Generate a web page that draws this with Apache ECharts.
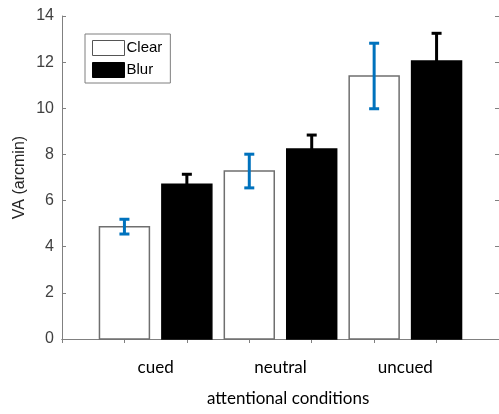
<!DOCTYPE html>
<html>
<head>
<meta charset="utf-8">
<script src="https://cdn.jsdelivr.net/npm/echarts@6/dist/echarts.min.js"></script>
<style>html,body{margin:0;padding:0;background:#fff;}#c{width:499px;height:414px;}</style>
</head>
<body>
<div id="c"></div>
<script>
var categories = ['cued', 'neutral', 'uncued'];
var clearVals = [4.87, 7.28, 11.40];
var clearErr = [0.32, 0.73, 1.42];
var blurVals = [6.71, 8.24, 12.05];
var blurErr = [0.43, 0.60, 1.20];
var yTicks = [0, 2, 4, 6, 8, 10, 12, 14];

var chart = echarts.init(document.getElementById('c'), null, {renderer: 'canvas'});

function makeRender(offset, fill, stroke, errColor) {
  return function (params, api) {
    var x = api.value(0), y = api.value(1), e = api.value(2);
    var pTop = api.coord([x + offset - 0.2, y]);
    var pBot = api.coord([x + offset + 0.2, 0]);
    var cx = api.coord([x + offset, 0])[0];
    var yHi = api.coord([x + offset, y + e])[1];
    var yLo = api.coord([x + offset, y - e])[1];
    var cap = 5;
    return {
      type: 'group',
      children: [
        {type: 'rect', shape: {x: pTop[0], y: pTop[1], width: pBot[0] - pTop[0], height: pBot[1] - pTop[1]},
         style: {fill: fill, stroke: stroke, lineWidth: 1.5}},
        {type: 'line', shape: {x1: cx, y1: yHi, x2: cx, y2: yLo}, style: {stroke: errColor, lineWidth: 3}},
        {type: 'line', shape: {x1: cx - cap, y1: yHi, x2: cx + cap, y2: yHi}, style: {stroke: errColor, lineWidth: 3}},
        {type: 'line', shape: {x1: cx - cap, y1: yLo, x2: cx + cap, y2: yLo}, style: {stroke: errColor, lineWidth: 3}}
      ]
    };
  };
}

var clearData = categories.map(function (c, i) { return [i + 1, clearVals[i], clearErr[i]]; });
var blurData = categories.map(function (c, i) { return [i + 1, blurVals[i], blurErr[i]]; });

var axisColor = '#808080';
var option = {
  animation: false,
  backgroundColor: '#fff',
  grid: {left: 62, top: 16, width: 438, height: 323},
  legend: {
    orient: 'vertical', left: 85, top: 34,
    padding: [6, 8, 5, 7], itemGap: 6,
    itemWidth: 32, itemHeight: 15,
    borderColor: '#7f7f7f', borderWidth: 1, backgroundColor: '#fff',
    textStyle: {fontFamily: 'Liberation Sans', fontSize: 15, color: '#000', padding: [0, 0, 0, -3]},
    data: [
      {name: 'Clear', icon: 'rect', itemStyle: {color: '#fff', borderColor: '#555', borderWidth: 1}},
      {name: 'Blur', icon: 'rect', itemStyle: {color: '#000', borderColor: '#000', borderWidth: 1}}
    ]
  },
  xAxis: [
    {
      type: 'value', position: 'bottom', min: 0.25, max: 3.75, interval: 0.5,
      axisLine: {lineStyle: {color: axisColor, width: 1}},
      axisTick: {inside: true, length: 4, lineStyle: {color: axisColor}},
      splitLine: {show: false},
      axisLabel: {
        customValues: [1, 2, 3], margin: 20,
        fontFamily: 'Lato', fontSize: 17, color: '#000',
        formatter: function (v) { return categories[Math.round(v) - 1] || ''; }
      }
    },
    {
      type: 'value', position: 'top', min: 0.25, max: 3.75, interval: 0.5,
      axisLine: {lineStyle: {color: axisColor, width: 1}},
      axisTick: {inside: true, length: 4, lineStyle: {color: axisColor}},
      splitLine: {show: false}, axisLabel: {show: false}
    }
  ],
  yAxis: [
    {
      type: 'value', position: 'left', min: 0, max: 14, interval: 2,
      axisLine: {show: true, lineStyle: {color: axisColor, width: 1}},
      axisTick: {show: true, inside: true, length: 4, lineStyle: {color: axisColor}},
      splitLine: {show: false},
      axisLabel: {margin: 8, fontFamily: 'Liberation Sans', fontSize: 16, color: '#404040'},
      name: 'VA (arcmin)', nameLocation: 'middle', nameGap: 34, nameMoveOverlap: false,
      nameTextStyle: {fontFamily: 'Liberation Sans', fontSize: 16, color: '#262626'}
    },
    {
      type: 'value', position: 'right', min: 0, max: 14, interval: 2,
      axisLine: {show: false},
      axisTick: {show: true, inside: true, length: 4, lineStyle: {color: axisColor}},
      splitLine: {show: false}, axisLabel: {show: false}
    }
  ],
  graphic: [
    {type: 'text', left: 207, top: 390, style: {text: 'attentional conditions', font: '17px Lato', fill: '#000'}}
  ],
  series: [
    {name: 'Clear', type: 'custom', xAxisIndex: 0, yAxisIndex: 0, data: clearData,
     itemStyle: {color: '#fff', borderColor: '#555'},
     encode: {x: 0, y: 1}, renderItem: makeRender(-0.25, '#fff', '#6f6f6f', '#0072BD')},
    {name: 'Blur', type: 'custom', xAxisIndex: 0, yAxisIndex: 0, data: blurData,
     itemStyle: {color: '#000'},
     encode: {x: 0, y: 1}, renderItem: makeRender(0.25, '#000', '#000', '#000')}
  ]
};
chart.setOption(option);
</script>
</body>
</html>
